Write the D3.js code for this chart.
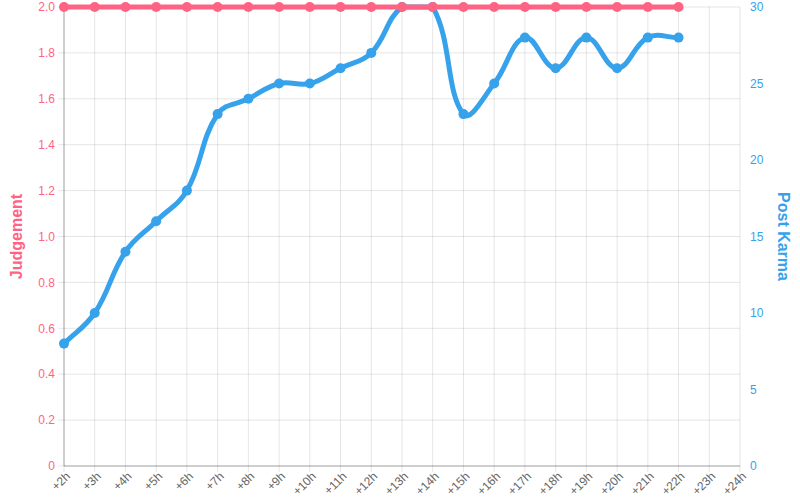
<!DOCTYPE html>
<html><head><meta charset="utf-8">
<script src="https://cdn.jsdelivr.net/npm/d3@7"></script>
<style>body{margin:0;background:#fff}svg{display:block}text{font-family:"Liberation Sans",Arial,sans-serif}</style>
</head><body><svg id="c" width="800" height="500"></svg>
<script>
const labels = ["+2h","+3h","+4h","+5h","+6h","+7h","+8h","+9h","+10h","+11h","+12h","+13h","+14h","+15h","+16h","+17h","+18h","+19h","+20h","+21h","+22h","+23h","+24h"];
const judgement = [2,2,2,2,2,2,2,2,2,2,2,2,2,2,2,2,2,2,2,2,2];
const karma = [8,10,14,16,18,23,24,25,25,26,27,30,30,23,25,28,26,28,26,28,28];
const leftTicks = [0,0.2,0.4,0.6,0.8,1.0,1.2,1.4,1.6,1.8,2.0];
const rightTicks = [0,5,10,15,20,25,30];
const pink = "#ff6384", blue = "#36a2eb";

const svg = d3.select("#c");
const L = 64, R = 740, T = 7, B = 466;
const x = d3.scalePoint().domain(labels).range([L, R]);
const yL = d3.scaleLinear().domain([0, 2]).range([B, T]);
const yR = d3.scaleLinear().domain([0, 30]).range([B, T]);

// grid
const g = svg.append("g");
g.selectAll(".vg").data(labels).join("line")
  .attr("x1", d => x(d)).attr("x2", d => x(d)).attr("y1", T).attr("y2", B + 6)
  .attr("stroke", "rgba(0,0,0,0.1)");
g.selectAll(".hg").data(leftTicks).join("line")
  .attr("x1", L - 6).attr("x2", R).attr("y1", d => yL(d)).attr("y2", d => yL(d))
  .attr("stroke", "rgba(0,0,0,0.1)");
// axis lines
g.append("line").attr("x1", L).attr("x2", L).attr("y1", T).attr("y2", B).attr("stroke", "rgba(0,0,0,0.3)");
g.append("line").attr("x1", L).attr("x2", R).attr("y1", B).attr("y2", B).attr("stroke", "rgba(0,0,0,0.3)");

// left tick labels
svg.selectAll(".lt").data(leftTicks).join("text")
  .attr("x", L - 9).attr("y", d => yL(d)).attr("dy", "0.35em")
  .attr("text-anchor", "end").attr("fill", pink).attr("font-size", 12)
  .text(d => d === 0 ? "0" : d.toFixed(1));
// right tick labels
svg.selectAll(".rt").data(rightTicks).join("text")
  .attr("x", R + 10).attr("y", d => yR(d)).attr("dy", "0.35em")
  .attr("text-anchor", "start").attr("fill", blue).attr("font-size", 12)
  .text(d => d);
// x labels
svg.selectAll(".xt").data(labels).join("text")
  .attr("transform", d => `translate(${x(d) + 4},${B + 8}) rotate(-45)`)
  .attr("text-anchor", "end").attr("dy", "0.35em")
  .attr("fill", "#666").attr("font-size", 12).text(d => d);

// axis titles
svg.append("text").attr("transform", `translate(22,${(T + B) / 2}) rotate(-90)`)
  .attr("text-anchor", "middle").attr("fill", pink).attr("font-size", 16).attr("font-weight", "bold").text("Judgement");
svg.append("text").attr("transform", `translate(778,${(T + B) / 2}) rotate(90)`)
  .attr("text-anchor", "middle").attr("fill", blue).attr("font-size", 16).attr("font-weight", "bold").text("Post Karma");

// Chart.js-like spline path
function splinePath(pts, tension) {
  const n = pts.length;
  const cps = pts.map((p, i) => {
    const prev = i > 0 ? pts[i - 1] : p;
    const next = i < n - 1 ? pts[i + 1] : p;
    const d01 = Math.hypot(p[0] - prev[0], p[1] - prev[1]);
    const d12 = Math.hypot(next[0] - p[0], next[1] - p[1]);
    let s01 = d01 / (d01 + d12), s12 = d12 / (d01 + d12);
    if (isNaN(s01)) s01 = 0; if (isNaN(s12)) s12 = 0;
    const fa = tension * s01, fb = tension * s12;
    const cap = v => Math.max(T, Math.min(B, v));
    return {
      p: [p[0] - fa * (next[0] - prev[0]), cap(p[1] - fa * (next[1] - prev[1]))],
      n: [p[0] + fb * (next[0] - prev[0]), cap(p[1] + fb * (next[1] - prev[1]))]
    };
  });
  let d = `M${pts[0][0]},${pts[0][1]}`;
  for (let i = 1; i < n; i++) {
    d += `C${cps[i - 1].n[0]},${cps[i - 1].n[1]} ${cps[i].p[0]},${cps[i].p[1]} ${pts[i][0]},${pts[i][1]}`;
  }
  return d;
}

const kPts = karma.map((v, i) => [x(labels[i]), yR(v)]);
const jPts = judgement.map((v, i) => [x(labels[i]), yL(v)]);

svg.append("path").attr("d", splinePath(kPts, 0.4)).attr("fill", "none")
  .attr("stroke", blue).attr("stroke-width", 5).attr("stroke-linejoin", "round");
svg.selectAll(".kp").data(kPts).join("circle")
  .attr("cx", d => d[0]).attr("cy", d => d[1]).attr("r", 5).attr("fill", blue);

svg.append("path").attr("d", splinePath(jPts, 0.4)).attr("fill", "none")
  .attr("stroke", pink).attr("stroke-width", 5);
svg.selectAll(".jp").data(jPts).join("circle")
  .attr("cx", d => d[0]).attr("cy", d => d[1]).attr("r", 5).attr("fill", pink);
</script></body></html>
